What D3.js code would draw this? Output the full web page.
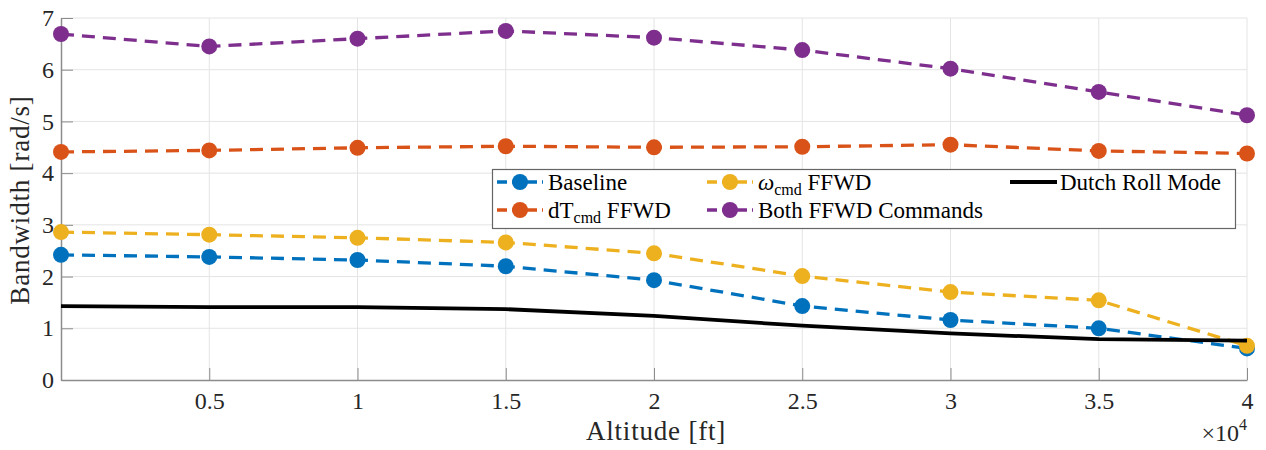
<!DOCTYPE html>
<html>
<head>
<meta charset="utf-8">
<script src="https://cdn.jsdelivr.net/npm/d3@7"></script>
<style>
  body { margin: 0; background: #fff; }
  svg text { font-family: "Liberation Serif", "DejaVu Serif", "Times New Roman", serif; }
</style>
</head>
<body>
<svg id="chart" width="1266" height="450"></svg>
<script>
// altitude in ft
var altitude = [0, 5000, 10000, 15000, 20000, 25000, 30000, 35000, 40000];

var baseline  = [2.42, 2.38, 2.32, 2.20, 1.93, 1.43, 1.16, 1.00, 0.61];
var dtFfwd    = [4.41, 4.44, 4.49, 4.52, 4.50, 4.51, 4.55, 4.43, 4.38];
var omegaFfwd = [2.86, 2.81, 2.75, 2.66, 2.45, 2.01, 1.70, 1.54, 0.66];
var bothFfwd  = [6.69, 6.45, 6.60, 6.75, 6.62, 6.38, 6.02, 5.57, 5.12];
var dutchRoll = [1.43, 1.41, 1.41, 1.37, 1.24, 1.05, 0.90, 0.79, 0.76];

var xTicks = [5000, 10000, 15000, 20000, 25000, 30000, 35000, 40000];
var yTicks = [0, 1, 2, 3, 4, 5, 6, 7];

var svg = d3.select("#chart");

var x = d3.scaleLinear().domain([0, 40000]).range([61, 1247]);
var y = d3.scaleLinear().domain([0, 7]).range([380, 18]);

// grid
var grid = svg.append("g");
grid.selectAll("line.gx")
    .data(xTicks)
  .enter().append("line")
    .attr("x1", function(d) { return x(d); })
    .attr("x2", function(d) { return x(d); })
    .attr("y1", y(0)).attr("y2", y(7))
    .attr("stroke", "#e4e4e4").attr("stroke-width", 1);
grid.selectAll("line.gy")
    .data(yTicks.slice(1))
  .enter().append("line")
    .attr("x1", x(0)).attr("x2", x(40000))
    .attr("y1", function(d) { return y(d); })
    .attr("y2", function(d) { return y(d); })
    .attr("stroke", "#e4e4e4").attr("stroke-width", 1);

// axes
var xAxis = svg.append("g")
    .attr("transform", "translate(0," + y(0) + ")")
    .call(d3.axisBottom(x).tickValues(xTicks).tickSize(-12).tickSizeOuter(0).tickPadding(12)
      .tickFormat(function(d) { return d3.format("")(d / 10000); }));

var yAxis = svg.append("g")
    .attr("transform", "translate(" + x(0) + ",0)")
    .call(d3.axisLeft(y).tickValues(yTicks).tickSize(-12).tickSizeOuter(0).tickPadding(7)
      .tickFormat(d3.format("d")));

[xAxis, yAxis].forEach(function(a) {
  a.attr("font-family", null);
  a.select(".domain").attr("stroke", "#8c8c8c").attr("stroke-width", 1.5);
  a.selectAll(".tick line").attr("stroke", "#8c8c8c").attr("stroke-width", 1);
  a.selectAll(".tick text")
    .attr("font-size", 24)
    .attr("fill", "#262626");
});

// axis labels
svg.append("text")
    .attr("x", 656).attr("y", 440)
    .attr("text-anchor", "middle")
    .attr("font-size", 27)
    .attr("letter-spacing", 0.8)
    .attr("fill", "#262626")
    .text("Altitude [ft]");

svg.append("text")
    .attr("transform", "translate(29,200) rotate(-90)")
    .attr("text-anchor", "middle")
    .attr("font-size", 27)
    .attr("letter-spacing", 0.8)
    .attr("fill", "#262626")
    .text("Bandwidth [rad/s]");

var expo = svg.append("text")
    .attr("x", 1247).attr("y", 441)
    .attr("text-anchor", "end")
    .attr("font-size", 24)
    .attr("fill", "#262626");
expo.append("tspan").text("\u00d710");
expo.append("tspan").attr("dy", -11).attr("font-size", 16).text("4");

// series
var series = [
  { name: "Baseline", values: baseline, color: "#0072BD", dashed: true },
  { name: "dT", values: dtFfwd, color: "#D95319", dashed: true },
  { name: "omega", values: omegaFfwd, color: "#EDB120", dashed: true },
  { name: "both", values: bothFfwd, color: "#7E2F8E", dashed: true },
  { name: "dutch", values: dutchRoll, color: "#000000", dashed: false }
];

var line = d3.line()
    .x(function(d, i) { return x(altitude[i]); })
    .y(function(d) { return y(d); });

series.forEach(function(s) {
  var g = svg.append("g");
  g.append("path")
      .datum(s.values)
      .attr("fill", "none")
      .attr("stroke", s.color)
      .attr("stroke-width", s.dashed ? 3.3 : 3.8)
      .attr("stroke-dasharray", s.dashed ? "13,8" : null)
      .attr("d", line);
  if (s.dashed) {
    g.selectAll("circle")
        .data(s.values)
      .enter().append("circle")
        .attr("cx", function(d, i) { return x(altitude[i]); })
        .attr("cy", function(d) { return y(d); })
        .attr("r", 8)
        .attr("fill", s.color);
  }
});

// legend
var lg = svg.append("g");
lg.append("rect")
    .attr("x", 492.5).attr("y", 169.5)
    .attr("width", 743).attr("height", 59)
    .attr("fill", "#fff").attr("stroke", "#666").attr("stroke-width", 1.2);

var legendItems = [
  { s: series[0], lx: 497, ty: 190, main: "Baseline" },
  { s: series[1], lx: 497, ty: 218, main: "dT", sub: "cmd", tail: " FFWD" },
  { s: series[2], lx: 707, ty: 190, main: "\u03c9", italic: true, sub: "cmd", tail: " FFWD" },
  { s: series[3], lx: 707, ty: 218, main: "Both FFWD Commands" },
  { s: series[4], lx: 1010, ty: 190, main: "Dutch Roll Mode" }
];

legendItems.forEach(function(it) {
  var cy = it.ty - 8;
  if (it.s.dashed) {
    lg.append("line")
        .attr("x1", it.lx).attr("x2", it.lx + 46)
        .attr("y1", cy).attr("y2", cy)
        .attr("stroke", it.s.color).attr("stroke-width", 3.3)
        .attr("stroke-dasharray", "10,5");
    lg.append("circle")
        .attr("cx", it.lx + 23).attr("cy", cy).attr("r", 8)
        .attr("fill", it.s.color);
  } else {
    lg.append("line")
        .attr("x1", it.lx).attr("x2", it.lx + 47)
        .attr("y1", cy).attr("y2", cy)
        .attr("stroke", it.s.color).attr("stroke-width", 3.8);
  }
  var tx = it.s.dashed ? it.lx + 51 : it.lx + 50;
  var t = lg.append("text")
      .attr("x", tx).attr("y", it.ty)
      .attr("font-size", 23)
      .attr("fill", "#000");
  t.append("tspan")
      .attr("font-style", it.italic ? "italic" : null)
      .text(it.main);
  if (it.sub) {
    t.append("tspan").attr("dy", 5).attr("font-size", 16).text(it.sub);
    t.append("tspan").attr("dy", -5).text(it.tail);
  }
});
</script>
</body>
</html>
